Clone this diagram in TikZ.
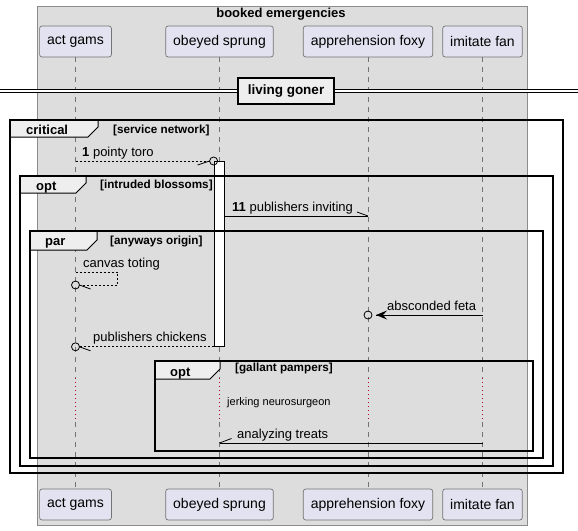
\documentclass[tikz,border=0pt]{standalone}
\usepackage{fontspec}
\setmainfont{Liberation Sans}
\definecolor{boxgrey}{HTML}{DDDDDD}
\definecolor{tabgrey}{HTML}{EEEEEE}
\definecolor{partfill}{HTML}{E2E2F0}
\definecolor{delayred}{HTML}{A80036}

\begin{document}
\begin{tikzpicture}[x=1pt, y=-1pt,
  part/.style={draw=black!55, line width=0.7pt, fill=partfill, rounded corners=2.5pt,
    minimum height=31pt, inner xsep=7.5pt, font=\fontsize{14}{16}\selectfont},
  life/.style={draw=black!55, line width=0.7pt, dash pattern=on 5pt off 5pt},
  pause/.style={draw=delayred, line width=0.8pt, dash pattern=on 1pt off 3pt},
  frame/.style={draw=black, line width=1.5pt},
  tabline/.style={draw=black, line width=1pt},
  tabname/.style={anchor=base west, inner sep=0pt, font=\fontsize{13}{15}\selectfont\bfseries},
  guard/.style={anchor=base west, inner sep=0pt, font=\fontsize{11.7}{14}\selectfont\bfseries},
  msg/.style={anchor=base west, inner sep=0pt, font=\fontsize{13}{15}\selectfont},
  call/.style={line width=0.8pt},
  ret/.style={line width=0.8pt, dash pattern=on 2pt off 2pt},
]

\useasboundingbox (0,0) rectangle (578,530);

\draw [fill=boxgrey, draw=black!45, line width=0.6pt] (37,6) rectangle (527,525);
\node [anchor=base, inner sep=0pt, font=\fontsize{13}{15}\selectfont\bfseries] (title) at (281,17.7) {booked emergencies};

\node [part] (ag) at (75.5,41.5) {act gams};
\node [part] (os) at (219.5,41.5) {obeyed sprung};
\node [part] (af) at (368,41.5) {apprehension foxy};
\node [part] (imf) at (482.5,41.5) {imitate fan};

\node [part] (agb) at (75.5,504.5) {act gams};
\node [part] (osb) at (219.5,504.5) {obeyed sprung};
\node [part] (afb) at (368,504.5) {apprehension foxy};
\node [part] (imfb) at (482.5,504.5) {imitate fan};

\coordinate (d1) at (0,378);
\coordinate (d2) at (0,422);

\draw [life] (ag) -- (ag |- d1);
\draw [pause] (ag |- d1) -- (ag |- d2);
\draw [life] (ag |- d2) -- (agb);

\draw [life] (os) -- (os |- d1);
\draw [pause] (os |- d1) -- (os |- d2);
\draw [life] (os |- d2) -- (osb);

\draw [life] (af) -- (af |- d1);
\draw [pause] (af |- d1) -- (af |- d2);
\draw [life] (af |- d2) -- (afb);

\draw [life] (imf) -- (imf |- d1);
\draw [pause] (imf |- d1) -- (imf |- d2);
\draw [life] (imf |- d2) -- (imfb);

\draw [double, double distance=2.2pt, line width=0.9pt] (0,91) -- (578,91);
\node [draw, line width=1.5pt, fill=tabgrey, minimum width=96pt, minimum height=26pt,
  font=\fontsize{13.5}{15}\selectfont\bfseries] (goner) at (286,91) {living goner};

\node [draw, line width=0.8pt, fill=white, minimum width=10pt, minimum height=185pt,
  inner sep=0pt, anchor=north] (act) at (219,161) {};

\fill [tabgrey] (10,120) -- (98,120) -- (98,127) -- (88,137) -- (10,137) -- cycle;
\draw [frame] (10,120) rectangle (563,473);
\draw [tabline] (98,120) -- (98,127) -- (88,137) -- (10,137);
\node [tabname] (critname) at (26,134.5) {critical};
\node [guard] (critguard) at (113,133) {[service network]};

\fill [tabgrey] (20,176) -- (86,176) -- (86,183) -- (76,193) -- (20,193) -- cycle;
\draw [frame] (20,176) rectangle (553,466);
\draw [tabline] (86,176) -- (86,183) -- (76,193) -- (20,193);
\node [tabname] (optname) at (36,190) {opt};
\node [guard] (optguard) at (100,188.5) {[intruded blossoms]};

\fill [tabgrey] (30,231) -- (97,231) -- (97,240) -- (87,250) -- (30,250) -- cycle;
\draw [frame] (30,231) rectangle (543,458);
\draw [tabline] (97,231) -- (97,240) -- (87,250) -- (30,250);
\node [tabname] (parname) at (45,245.5) {par};
\node [guard] (parguard) at (110,244.5) {[anyways origin]};

\fill [tabgrey] (155,361) -- (220,361) -- (220,369) -- (210,379) -- (155,379) -- cycle;
\draw [frame] (155,361) rectangle (533,451);
\draw [tabline] (220,361) -- (220,369) -- (210,379) -- (155,379);
\node [tabname] (optbname) at (170,376) {opt};
\node [guard] (optbguard) at (235,371) {[gallant pampers]};

\coordinate (c1) at (act.north west);
\draw [ret, shorten >=4pt] (ag |- c1) -- (c1);
\draw [call] (c1) circle (4pt);
\draw [call] ([xshift=-4pt]c1) -- ++(-12,4);
\node [msg] (m1) at (82,156) {\textbf{1} pointy toro};

\coordinate (c2) at (af |- 0,216);
\draw [call] (act.east |- c2) -- (c2);
\draw [call] (c2) -- ++(-11,-4);
\node [msg] (m2) at (232,211.7) {\textbf{11} publishers inviting};

\coordinate (c3) at (ag |- 0,285);
\draw [ret] (ag |- 0,272) -- ++(42,0) -- ++(0,13) -- ([xshift=4pt]c3);
\draw [call] (c3) circle (4pt);
\draw [call] ([xshift=4pt]c3) -- ++(11,4);
\node [msg] (m3) at (83,267) {canvas toting};

\coordinate (c4) at (af |- 0,315);
\draw [call] (imf |- c4) -- ([xshift=8pt]c4);
\fill ([xshift=8pt]c4) -- ++(11,-4.5) -- ++(-4,4.5) -- ++(4,4.5) -- cycle;
\draw [call] (c4) circle (4pt);
\node [msg] (m4) at (387,310.7) {absconded feta};

\coordinate (c5) at (ag |- act.south);
\draw [ret, shorten >=4pt] (act.south west) -- (c5);
\draw [call] (c5) circle (4pt);
\draw [call] ([xshift=4pt]c5) -- ++(11,4);
\node [msg] (m5) at (93,341.5) {publishers chickens};

\node [anchor=base west, inner sep=0pt, font=\fontsize{11}{13}\selectfont] (delay) at (227,405) {jerking neurosurgeon};

\coordinate (c7) at (os |- 0,443);
\draw [call] (imf |- c7) -- (c7);
\draw [call] (c7) -- ++(12,-4.5);
\node [msg] (m7) at (237,438.3) {analyzing treats};

\end{tikzpicture}
\end{document}
